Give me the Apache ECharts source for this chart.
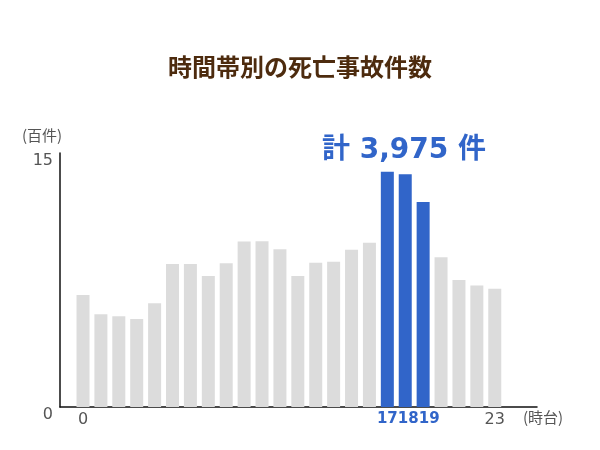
<!DOCTYPE html>
<html>
<head>
<meta charset="utf-8">
<script src="https://cdn.jsdelivr.net/npm/echarts@6/dist/echarts.min.js"></script>
<style>
  html, body { margin: 0; padding: 0; background: #fff; }
  #chart { width: 600px; height: 450px; }
</style>
</head>
<body>
<div id="chart"></div>
<script>
// 時台 (0-23) と死亡事故件数 (百件)
var hours = [0,1,2,3,4,5,6,7,8,9,10,11,12,13,14,15,16,17,18,19,20,21,22,23];
var deaths = [6.62,5.47,5.36,5.2,6.12,8.45,8.45,7.74,8.49,9.77,9.79,9.31,7.74,8.52,8.58,9.29,9.7,13.9,13.75,12.1,8.84,7.5,7.17,6.99];
var peakHours = [17, 18, 19];
var shownLabels = [0, 17, 18, 19, 23];
var yTicks = [0, 15];

var BLUE = '#3165c9';
var GRAY = '#dcdcdc';
var FONT = '"Noto Sans CJK JP", "Noto Sans", sans-serif';
var NUMFONT = '"DejaVu Sans", "Noto Sans CJK JP", sans-serif';

(function(){
    var myChart = echarts.init(document.getElementById('chart'));

    var barData = hours.map(function(h, i){
        return {
            value: [h, deaths[i]],
            itemStyle: { color: peakHours.indexOf(h) >= 0 ? BLUE : GRAY }
        };
    });

    var peakStyle = { color: BLUE, fontSize: 15, fontWeight: 'bold', fontFamily: NUMFONT };

    var option = {
        animation: false,
        title: {
            left: 'center',
            top: 50,
            text: '時間帯別の死亡事故件数',
            textStyle: {
                color: '#4d2b0e',
                fontWeight: 'bold',
                fontFamily: FONT,
                fontSize: 24
            }
        },
        grid: {
            left: 60,
            right: 63,
            top: 153,
            bottom: 43,
            containLabel: false
        },
        graphic: [
            {
                type: 'text',
                left: 322,
                top: 137,
                style: {
                    text: '計 3,975 件',
                    fill: BLUE,
                    font: 'bold 28px ' + NUMFONT
                }
            },
            {
                type: 'text',
                left: 22,
                top: 128,
                style: {
                    text: '(百件)',
                    fill: '#555',
                    font: '15px ' + FONT
                }
            },
            {
                type: 'text',
                left: 523,
                top: 410,
                style: {
                    text: '(時台)',
                    fill: '#555',
                    font: '15px ' + FONT
                }
            }
        ],
        xAxis: {
            type: 'value',
            min: -1.285,
            max: 25.36,
            splitLine: { show: false },
            axisTick: { show: false },
            axisLine: {
                show: true,
                onZero: false,
                lineStyle: { color: '#111', width: 1.5 }
            },
            axisLabel: {
                customValues: shownLabels,
                margin: 5,
                formatter: function(v){
                    if (v === 17) return '{p17|' + v + '}';
                    if (v === 18) return '{p18|' + v + '}';
                    if (v === 19) return '{p19|' + v + '}';
                    return '{n|' + v + '}';
                },
                rich: {
                    n: { color: '#555', fontSize: 16, fontFamily: NUMFONT },
                    p17: peakStyle,
                    p18: Object.assign({ padding: [0, 0, 0, 6] }, peakStyle),
                    p19: Object.assign({ padding: [0, 0, 0, 12] }, peakStyle)
                }
            }
        },
        yAxis: {
            type: 'value',
            min: 0,
            max: 15,
            interval: 15,
            splitLine: { show: false },
            axisTick: { show: false },
            axisLine: {
                show: true,
                onZero: false,
                lineStyle: { color: '#111', width: 1.5 }
            },
            axisLabel: {
                customValues: yTicks,
                margin: 7,
                color: '#555',
                fontSize: 16,
                fontFamily: NUMFONT,
                verticalAlign: 'top'
            }
        },
        series: [
            {
                type: 'bar',
                barWidth: 13,
                data: barData
            }
        ]
    };

    myChart.setOption(option);
})();
</script>
</body>
</html>
